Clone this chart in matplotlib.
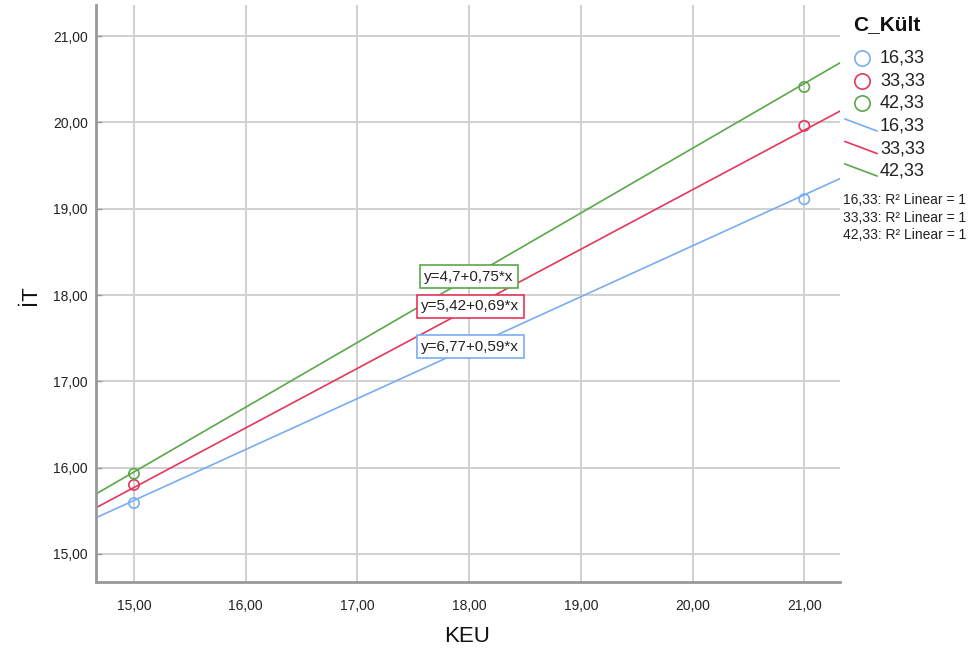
import matplotlib
matplotlib.use("Agg")
import matplotlib.pyplot as plt
import numpy as np

plt.rcParams['font.family'] = ['Liberation Sans', 'DejaVu Sans']

# Group values (C_Kült) and observed points
groups = ["16,33", "33,33", "42,33"]
colors = ["#79adf2", "#e5365c", "#5aa84a"]
x_obs = [15.0, 21.0]
y_obs = {
    "16,33": [15.59, 19.11],
    "33,33": [15.80, 19.96],
    "42,33": [15.93, 20.41],
}
# Linear fit coefficients per group: y = a + b*x
intercepts = [6.77, 5.42, 4.70]
slopes = [0.59, 0.69, 0.75]
eq_labels = ["y=6,77+0,59*x", "y=5,42+0,69*x", "y=4,7+0,75*x"]
eq_label_pos = [(18.01, 17.40), (18.01, 17.87), (18.00, 18.21)]

xticks = [15, 16, 17, 18, 19, 20, 21]
yticks = [15, 16, 17, 18, 19, 20, 21]
xlim = (14.66, 21.32)
ylim = (14.675, 21.36)

fig = plt.figure(figsize=(9.77, 6.52), dpi=100)
ax = fig.add_axes([96 / 977, 1 - 582 / 652, (840 - 96) / 977, (582 - 5) / 652])

ax.set_xlim(*xlim)
ax.set_ylim(*ylim)

for t in xticks:
    ax.axvline(t, color="#d0d0d0", lw=1.4, zorder=0)
for t in yticks:
    ax.axhline(t, color="#d0d0d0", lw=1.4, zorder=0)

xs = np.array(xlim)
for g, c, a, b in zip(groups, colors, intercepts, slopes):
    ax.plot(xs, a + b * xs, color=c, lw=1.2, zorder=2, clip_on=True)
    ax.scatter(x_obs, y_obs[g], s=55, facecolors="none", edgecolors=c,
               linewidths=1.2, zorder=3)

for txt, (px, py), c in zip(eq_labels, eq_label_pos, colors):
    ax.text(px, py, txt, ha="center", va="center", fontsize=11, color="#222222",
            zorder=4,
            bbox=dict(boxstyle="square,pad=0.3", facecolor="white", edgecolor=c, lw=1.2))

ax.set_xticks(xticks)
ax.set_yticks(yticks)
ax.set_xticklabels([f"{t:.2f}".replace(".", ",") for t in xticks])
ax.set_yticklabels([f"{t:.2f}".replace(".", ",") for t in yticks])
ax.tick_params(axis="both", labelsize=10, colors="#222222", length=4,
               direction="in", width=1, color="#999999", pad=6)
ax.tick_params(axis="x", length=0, pad=12)

for s in ["top", "right"]:
    ax.spines[s].set_visible(False)
for s in ["left", "bottom"]:
    ax.spines[s].set_color("#999999")
    ax.spines[s].set_linewidth(2)

fig.text(30 / 977, 1 - 295 / 652, "İT", rotation=90, ha="center", va="center",
         fontsize=16, color="#111111")
fig.text(467 / 977, 1 - 636 / 652, "KEU", ha="center", va="center",
         fontsize=16, color="#111111")

# Legend panel
fig.text(853 / 977, 1 - 25 / 652, "C_Kült", ha="left", va="center",
         fontsize=15, fontweight="bold", color="#111111")
for i, (g, c) in enumerate(zip(groups, colors)):
    y = 1 - (58 + 22.5 * i) / 652
    fig.lines.append(plt.Line2D([862 / 977], [y], marker="o", markersize=11,
                                markerfacecolor="none", markeredgecolor=c,
                                markeredgewidth=1.2, transform=fig.transFigure))
    fig.text(880 / 977, y, g, ha="left", va="center", fontsize=13, color="#222222")
for i, (g, c) in enumerate(zip(groups, colors)):
    yc = 126 + 22.5 * i
    fig.lines.append(plt.Line2D([845 / 977, 877 / 977],
                                [1 - (yc - 7) / 652, 1 - (yc + 5) / 652],
                                color=c, lw=1.2, transform=fig.transFigure))
    fig.text(880 / 977, 1 - yc / 652, g, ha="left", va="center", fontsize=13,
             color="#222222")
for i, g in enumerate(groups):
    fig.text(843 / 977, 1 - (200 + 17.5 * i) / 652,
             f"{g}: R² Linear = 1", ha="left", va="center", fontsize=10,
             color="#222222")

fig.savefig("out.png", dpi=100)
